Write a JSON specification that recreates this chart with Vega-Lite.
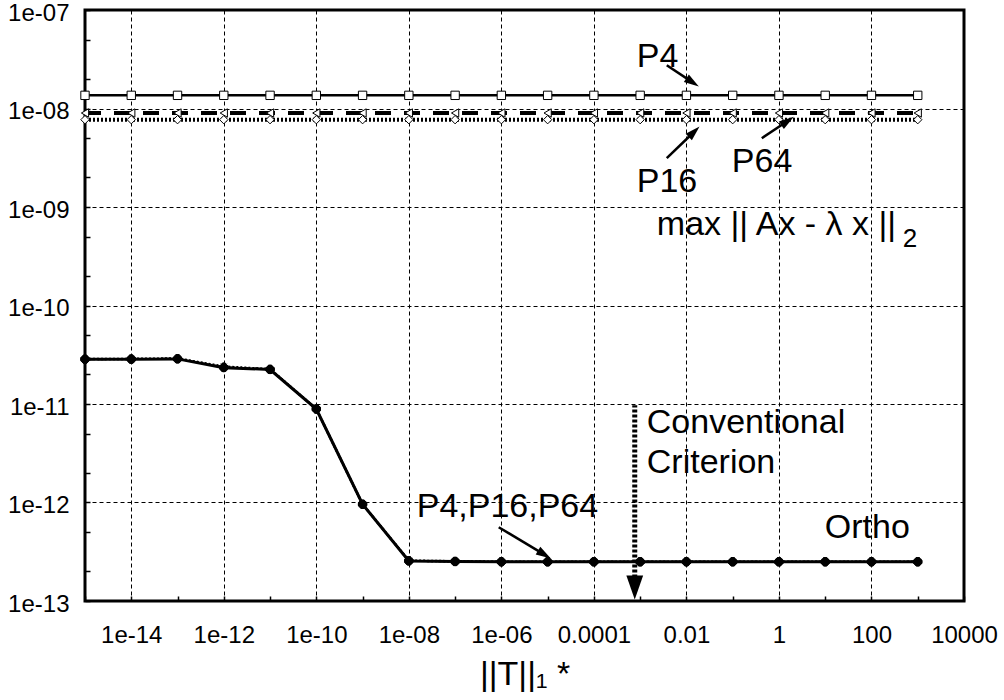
{
  "$schema": "https://vega.github.io/schema/vega-lite/v6.json",
  "width": 879,
  "height": 591,
  "autosize": {"type": "none"},
  "padding": {"left": 85, "top": 10, "right": 40, "bottom": 99},
  "background": "white",
  "config": {"view": {"stroke": "black", "strokeWidth": 3}, "font": "Liberation Sans"},
  "datasets": {
    "curves": [
      {"c":"P4 res","x":1e-15,"y":1.36e-8},{"c":"P4 res","x":1e-14,"y":1.36e-8},{"c":"P4 res","x":1e-13,"y":1.36e-8},{"c":"P4 res","x":1e-12,"y":1.36e-8},{"c":"P4 res","x":1e-11,"y":1.36e-8},{"c":"P4 res","x":1e-10,"y":1.36e-8},{"c":"P4 res","x":1e-9,"y":1.36e-8},{"c":"P4 res","x":1e-8,"y":1.36e-8},{"c":"P4 res","x":1e-7,"y":1.36e-8},{"c":"P4 res","x":1e-6,"y":1.36e-8},{"c":"P4 res","x":1e-5,"y":1.36e-8},{"c":"P4 res","x":0.0001,"y":1.36e-8},{"c":"P4 res","x":0.001,"y":1.36e-8},{"c":"P4 res","x":0.01,"y":1.36e-8},{"c":"P4 res","x":0.1,"y":1.36e-8},{"c":"P4 res","x":1,"y":1.36e-8},{"c":"P4 res","x":10,"y":1.36e-8},{"c":"P4 res","x":100,"y":1.36e-8},{"c":"P4 res","x":1000,"y":1.36e-8},
      {"c":"P64 res","x":1e-15,"y":9.0e-9},{"c":"P64 res","x":1e-14,"y":9.0e-9},{"c":"P64 res","x":1e-13,"y":9.0e-9},{"c":"P64 res","x":1e-12,"y":9.0e-9},{"c":"P64 res","x":1e-11,"y":9.0e-9},{"c":"P64 res","x":1e-10,"y":9.0e-9},{"c":"P64 res","x":1e-9,"y":9.0e-9},{"c":"P64 res","x":1e-8,"y":9.0e-9},{"c":"P64 res","x":1e-7,"y":9.0e-9},{"c":"P64 res","x":1e-6,"y":9.0e-9},{"c":"P64 res","x":1e-5,"y":9.0e-9},{"c":"P64 res","x":0.0001,"y":9.0e-9},{"c":"P64 res","x":0.001,"y":9.0e-9},{"c":"P64 res","x":0.01,"y":9.0e-9},{"c":"P64 res","x":0.1,"y":9.0e-9},{"c":"P64 res","x":1,"y":9.0e-9},{"c":"P64 res","x":10,"y":9.0e-9},{"c":"P64 res","x":100,"y":9.0e-9},{"c":"P64 res","x":1000,"y":9.0e-9},
      {"c":"P16 res","x":1e-15,"y":7.7e-9},{"c":"P16 res","x":1e-14,"y":7.7e-9},{"c":"P16 res","x":1e-13,"y":7.7e-9},{"c":"P16 res","x":1e-12,"y":7.7e-9},{"c":"P16 res","x":1e-11,"y":7.7e-9},{"c":"P16 res","x":1e-10,"y":7.7e-9},{"c":"P16 res","x":1e-9,"y":7.7e-9},{"c":"P16 res","x":1e-8,"y":7.7e-9},{"c":"P16 res","x":1e-7,"y":7.7e-9},{"c":"P16 res","x":1e-6,"y":7.7e-9},{"c":"P16 res","x":1e-5,"y":7.7e-9},{"c":"P16 res","x":0.0001,"y":7.7e-9},{"c":"P16 res","x":0.001,"y":7.7e-9},{"c":"P16 res","x":0.01,"y":7.7e-9},{"c":"P16 res","x":0.1,"y":7.7e-9},{"c":"P16 res","x":1,"y":7.7e-9},{"c":"P16 res","x":10,"y":7.7e-9},{"c":"P16 res","x":100,"y":7.7e-9},{"c":"P16 res","x":1000,"y":7.7e-9},
      {"c":"P4 ortho","x":1e-15,"y":2.85e-11},{"c":"P4 ortho","x":1e-14,"y":2.85e-11},{"c":"P4 ortho","x":1e-13,"y":2.87e-11},{"c":"P4 ortho","x":1e-12,"y":2.34e-11},{"c":"P4 ortho","x":1e-11,"y":2.24e-11},{"c":"P4 ortho","x":1e-10,"y":8.9e-12},{"c":"P4 ortho","x":1e-9,"y":9.6e-13},{"c":"P4 ortho","x":1e-8,"y":2.55e-13},{"c":"P4 ortho","x":1e-7,"y":2.52e-13},{"c":"P4 ortho","x":1e-6,"y":2.5e-13},{"c":"P4 ortho","x":1e-5,"y":2.5e-13},{"c":"P4 ortho","x":0.0001,"y":2.5e-13},{"c":"P4 ortho","x":0.001,"y":2.5e-13},{"c":"P4 ortho","x":0.01,"y":2.5e-13},{"c":"P4 ortho","x":0.1,"y":2.5e-13},{"c":"P4 ortho","x":1,"y":2.5e-13},{"c":"P4 ortho","x":10,"y":2.5e-13},{"c":"P4 ortho","x":100,"y":2.5e-13},{"c":"P4 ortho","x":1000,"y":2.5e-13},
      {"c":"P16 ortho","x":1e-15,"y":2.87e-11},{"c":"P16 ortho","x":1e-14,"y":2.87e-11},{"c":"P16 ortho","x":1e-13,"y":2.9e-11},{"c":"P16 ortho","x":1e-12,"y":2.4e-11},{"c":"P16 ortho","x":1e-11,"y":2.26e-11},{"c":"P16 ortho","x":1e-10,"y":8.9e-12},{"c":"P16 ortho","x":1e-9,"y":9.6e-13},{"c":"P16 ortho","x":1e-8,"y":2.57e-13},{"c":"P16 ortho","x":1e-7,"y":2.53e-13},{"c":"P16 ortho","x":1e-6,"y":2.5e-13},{"c":"P16 ortho","x":1e-5,"y":2.5e-13},{"c":"P16 ortho","x":0.0001,"y":2.5e-13},{"c":"P16 ortho","x":0.001,"y":2.5e-13},{"c":"P16 ortho","x":0.01,"y":2.5e-13},{"c":"P16 ortho","x":0.1,"y":2.5e-13},{"c":"P16 ortho","x":1,"y":2.5e-13},{"c":"P16 ortho","x":10,"y":2.5e-13},{"c":"P16 ortho","x":100,"y":2.5e-13},{"c":"P16 ortho","x":1000,"y":2.5e-13},
      {"c":"P64 ortho","x":1e-15,"y":2.85e-11},{"c":"P64 ortho","x":1e-14,"y":2.86e-11},{"c":"P64 ortho","x":1e-13,"y":2.88e-11},{"c":"P64 ortho","x":1e-12,"y":2.36e-11},{"c":"P64 ortho","x":1e-11,"y":2.25e-11},{"c":"P64 ortho","x":1e-10,"y":8.9e-12},{"c":"P64 ortho","x":1e-9,"y":9.6e-13},{"c":"P64 ortho","x":1e-8,"y":2.56e-13},{"c":"P64 ortho","x":1e-7,"y":2.52e-13},{"c":"P64 ortho","x":1e-6,"y":2.5e-13},{"c":"P64 ortho","x":1e-5,"y":2.5e-13},{"c":"P64 ortho","x":0.0001,"y":2.5e-13},{"c":"P64 ortho","x":0.001,"y":2.5e-13},{"c":"P64 ortho","x":0.01,"y":2.5e-13},{"c":"P64 ortho","x":0.1,"y":2.5e-13},{"c":"P64 ortho","x":1,"y":2.5e-13},{"c":"P64 ortho","x":10,"y":2.5e-13},{"c":"P64 ortho","x":100,"y":2.5e-13},{"c":"P64 ortho","x":1000,"y":2.5e-13}
    ],
    "arrows": [
      {"x":0.0136,"y":1.84e-8,"x2":0.00376,"y2":2.75e-8},
      {"x":0.0147,"y":5.81e-9,"x2":0.00376,"y2":3.13e-9},
      {"x":1.538,"y":7.47e-9,"x2":0.4256,"y2":4.99e-9},
      {"x":8.53e-6,"y":2.96e-13,"x2":8.77e-7,"y2":5.61e-13}
    ],
    "criterion": [
      {"x":0.000764,"y":1.37e-13,"y2":9.72e-12}
    ],
    "notes": [
      {"x":0.000843,"y":2.62e-8,"text":"P4"},
      {"x":0.000843,"y":1.41e-9,"text":"P16"},
      {"x":0.0957,"y":2.25e-9,"text":"P64"},
      {"x":0.00229,"y":5.18e-10,"text":"max || Ax - λ x ||"},
      {"x":0.00139,"y":5.06e-12,"text":"Conventional"},
      {"x":0.00139,"y":1.98e-12,"text":"Criterion"},
      {"x":9.8,"y":4.35e-13,"text":"Ortho"},
      {"x":1.48e-8,"y":7.1e-13,"text":"P4,P16,P64"}
    ],
    "subs": [
      {"x":476,"y":3.91e-10,"text":"2"}
    ]
  },
  "encoding": {
    "x": {
      "field": "x", "type": "quantitative",
      "scale": {"type": "log", "domain": [1e-15, 10000], "nice": false},
      "axis": {
        "values": [1e-15,1e-14,1e-13,1e-12,1e-11,1e-10,1e-9,1e-8,1e-7,1e-6,1e-5,0.0001,0.001,0.01,0.1,1,10,100,1000,10000],
        "domain": false,
        "grid": true, "gridColor": "black", "gridWidth": 1, "gridDash": [4, 3],
        "gridOpacity": {"condition": {"test": "abs(log(datum.value)/LN10/2 - round(log(datum.value)/LN10/2)) < 0.01", "value": 1}, "value": 0},
        "ticks": true, "tickSize": -5, "tickColor": "black", "tickWidth": 1.5,
        "labelExpr": "abs(log(datum.value)/LN10/2 - round(log(datum.value)/LN10/2)) > 0.01 ? '' : (datum.value < 0.00005 ? '1e-' + (datum.value > 1e-10 ? '0' : '') + (-round(log(datum.value)/LN10)) : '' + datum.value)",
        "labelFont": "Liberation Sans", "labelFontSize": 24, "labelColor": "black",
        "labelPadding": 27, "labelFlush": false, "labelOverlap": false, "labelBound": false,
        "title": "||T||₁ *", "titleFont": "Liberation Sans", "titleFontSize": 34, "titleFontWeight": "normal", "titleColor": "black", "titlePadding": 10
      }
    },
    "y": {
      "field": "y", "type": "quantitative",
      "scale": {"type": "log", "domain": [1e-13, 1e-7], "nice": false},
      "axis": {
        "values": [1e-13,2e-13,5e-13,1e-12,2e-12,5e-12,1e-11,2e-11,5e-11,1e-10,2e-10,5e-10,1e-9,2e-9,5e-9,1e-8,2e-8,5e-8,1e-7],
        "domain": false,
        "grid": true, "gridColor": "black", "gridWidth": 1, "gridDash": [4, 3],
        "gridOpacity": {"condition": {"test": "abs(log(datum.value)/LN10 - round(log(datum.value)/LN10)) < 0.01", "value": 1}, "value": 0},
        "ticks": true, "tickSize": -5, "tickColor": "black", "tickWidth": 1.5,
        "labelExpr": "abs(log(datum.value)/LN10 - round(log(datum.value)/LN10)) > 0.01 ? '' : '1e-' + (datum.value > 1e-10 ? '0' : '') + (-round(log(datum.value)/LN10))",
        "labelFont": "Liberation Sans", "labelFontSize": 24, "labelColor": "black",
        "labelPadding": 21, "labelOffset": 3, "labelFlush": false, "labelOverlap": false, "labelBound": false,
        "title": null
      }
    }
  },
  "layer": [
    {
      "data": {"name": "curves"},
      "transform": [{"filter": "datum.c == 'P4 res'"}],
      "mark": {"type": "line", "color": "black", "strokeWidth": 2.5, "clip": false}
    },
    {
      "data": {"name": "curves"},
      "transform": [{"filter": "datum.c == 'P64 res'"}],
      "mark": {"type": "line", "color": "black", "strokeWidth": 4, "strokeDash": [16, 13], "clip": false}
    },
    {
      "data": {"name": "curves"},
      "transform": [{"filter": "datum.c == 'P16 res'"}],
      "mark": {"type": "line", "color": "black", "strokeWidth": 4, "strokeDash": [2, 2], "clip": false}
    },
    {
      "data": {"name": "curves"},
      "transform": [{"filter": "datum.c == 'P64 ortho'"}],
      "mark": {"type": "line", "color": "black", "strokeWidth": 2, "strokeDash": [8, 5], "clip": false}
    },
    {
      "data": {"name": "curves"},
      "transform": [{"filter": "datum.c == 'P16 ortho'"}],
      "mark": {"type": "line", "color": "black", "strokeWidth": 2.5, "strokeDash": [2, 2], "clip": false}
    },
    {
      "data": {"name": "curves"},
      "transform": [{"filter": "datum.c == 'P4 ortho'"}],
      "mark": {"type": "line", "color": "black", "strokeWidth": 3, "clip": false}
    },
    {
      "data": {"name": "curves"},
      "mark": {"type": "point", "filled": true, "stroke": "black", "strokeWidth": 1, "opacity": 1, "size": 70, "clip": false},
      "encoding": {
        "shape": {
          "field": "c", "type": "nominal", "legend": null,
          "scale": {"domain": ["P4 res","P64 res","P16 res","P4 ortho","P16 ortho","P64 ortho"], "range": ["square","triangle-left","diamond","circle","M-1,0L1,0M0,-1L0,1M-0.7,-0.7L0.7,0.7M-0.7,0.7L0.7,-0.7","cross"]}
        },
        "fill": {
          "field": "c", "type": "nominal", "legend": null,
          "scale": {"domain": ["P4 res","P64 res","P16 res","P4 ortho","P16 ortho","P64 ortho"], "range": ["white","white","white","black","black","black"]}
        }
      }
    },
    {
      "data": {"name": "arrows"},
      "mark": {"type": "rule", "color": "black", "strokeWidth": 2.5},
      "encoding": {
        "x2": {"field": "x2"},
        "y2": {"field": "y2"}
      }
    },
    {
      "data": {"name": "arrows"},
      "transform": [
        {"calculate": "atan2((log(datum.x)-log(datum.x2))/LN10*46.25, (log(datum.y)-log(datum.y2))/LN10*98.5)*180/PI", "as": "angle"}
      ],
      "mark": {"type": "point", "shape": "M0,-1L0.6,1L-0.6,1Z", "filled": true, "color": "black", "size": 225, "opacity": 1},
      "encoding": {
        "angle": {"field": "angle", "type": "quantitative", "scale": null}
      }
    },
    {
      "data": {"name": "criterion"},
      "mark": {"type": "rule", "color": "black", "strokeWidth": 5, "strokeDash": [3, 2]},
      "encoding": {
        "y2": {"field": "y2"}
      }
    },
    {
      "data": {"name": "criterion"},
      "mark": {"type": "point", "shape": "M-0.7,-1L0.7,-1L0,1Z", "filled": true, "color": "black", "size": 576, "opacity": 1, "clip": false}
    },
    {
      "data": {"name": "notes"},
      "mark": {"type": "text", "align": "left", "baseline": "alphabetic", "font": "Liberation Sans", "fontSize": 34, "color": "black"},
      "encoding": {
        "text": {"field": "text"}
      }
    },
    {
      "data": {"name": "subs"},
      "mark": {"type": "text", "align": "left", "baseline": "alphabetic", "font": "Liberation Sans", "fontSize": 26, "color": "black"},
      "encoding": {
        "text": {"field": "text"}
      }
    }
  ]
}
